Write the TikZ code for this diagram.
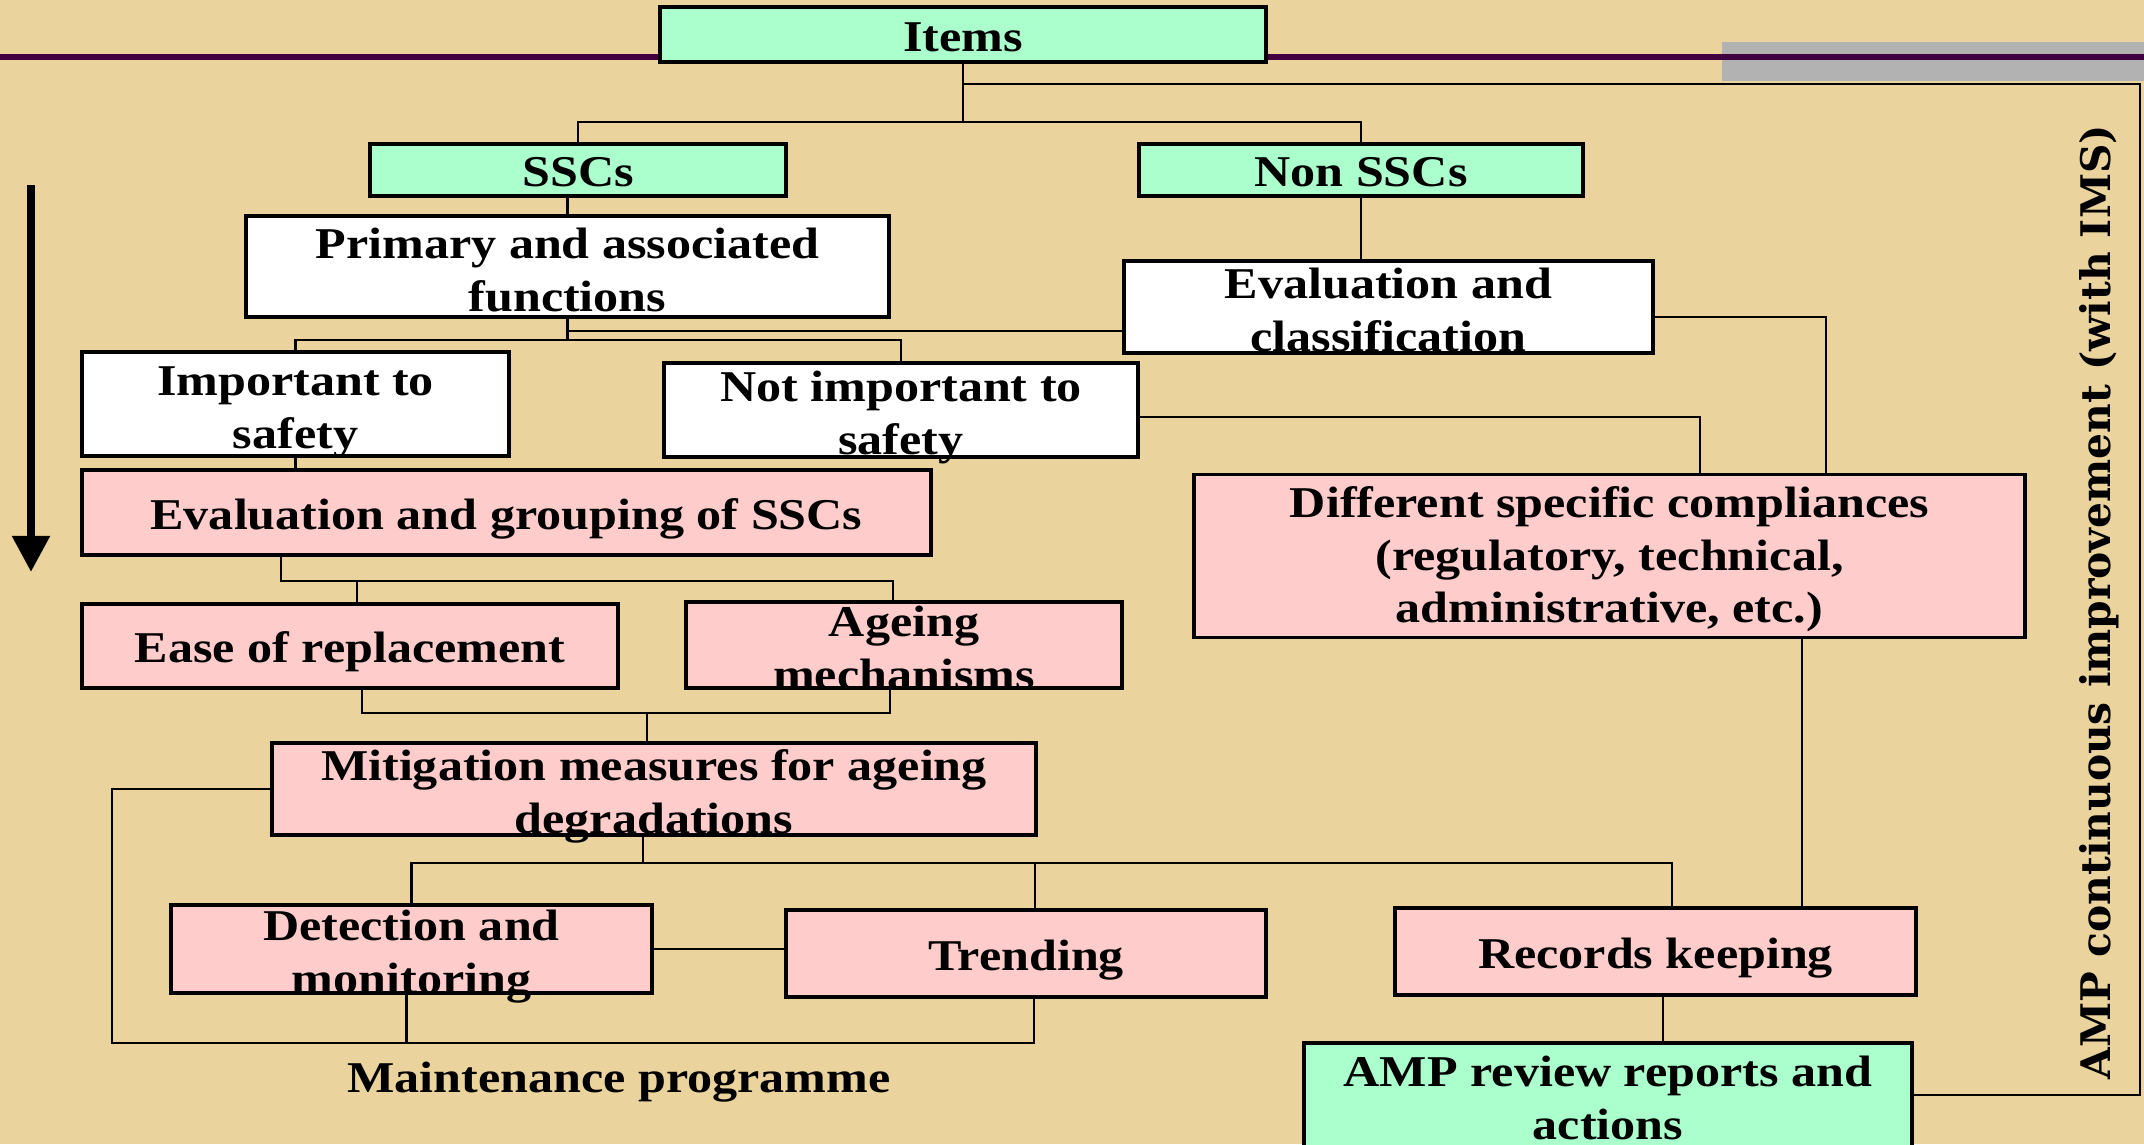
\documentclass[tikz,border=0pt]{standalone}
\usepackage{fontspec}
\setmainfont{Liberation Serif}
\newfontfamily\boxfont{Liberation Serif}[FakeStretch=1.14]
\newfontfamily\sidefont{DejaVu Serif}
\usetikzlibrary{arrows.meta}
\definecolor{paper}{RGB}{234,211,156}
\definecolor{mint}{RGB}{170,255,204}
\definecolor{rosy}{RGB}{255,204,204}
\definecolor{plum}{RGB}{64,0,64}
\definecolor{bar}{RGB}{178,178,178}

\begin{document}
\begin{tikzpicture}[x=0.01cm,y=-0.01cm,
  lift/.style={execute at begin node={\rule[-3pt]{0pt}{#1}}},
  box/.style={draw,line width=1pt,align=center,inner xsep=2pt,inner ysep=-8pt,font=\boxfont\bfseries\fontsize{12.5}{15}\selectfont,lift=15.4pt},
  two/.style={lift=31.4pt},
  wbox/.style={box,fill=white},gbox/.style={box,fill=mint},pbox/.style={box,fill=rosy},
  wire/.style={line width=0.6pt}]
\useasboundingbox (0,0) rectangle (2144,1144);
\fill[paper] (0,0) rectangle (2144,1144);
\fill[bar] (1722,42) rectangle (2144,81);\draw[plum,line width=1.6pt] (0,57)--(2144,57);
% boxes
\node[gbox,minimum width=6.06cm,minimum height=0.55cm] (items) at (963,34.5){Items};
\node[gbox,minimum width=4.16cm,minimum height=0.52cm] (sscs) at (578,170){SSCs};
\node[gbox,minimum width=4.44cm,minimum height=0.52cm] (nonsscs) at (1361,170){Non SSCs};
\node[wbox,two,minimum width=6.43cm,minimum height=1.01cm] (primary) at (567.5,266.5){Primary and associated\\functions};
\node[wbox,two,minimum width=5.29cm,minimum height=0.92cm] (evalclass) at (1388.5,307){Evaluation and\\classification};
\node[wbox,two,minimum width=4.27cm,minimum height=1.04cm] (important) at (295.5,404){Important to\\safety};
\node[wbox,two,minimum width=4.74cm,minimum height=0.94cm] (notimp) at (901,410){Not important to\\safety};
\node[pbox,minimum width=8.49cm,minimum height=0.85cm] (grouping) at (506.5,512.5){Evaluation and grouping of SSCs};
\node[pbox,minimum width=5.36cm,minimum height=0.84cm] (ease) at (350,646){Ease of replacement};
\node[pbox,two,minimum width=4.36cm,minimum height=0.86cm] (ageing) at (904,645){Ageing\\mechanisms};
\node[pbox,two,minimum width=7.64cm,minimum height=0.92cm] (mitig) at (654,789){Mitigation measures for ageing\\degradations};
\node[pbox,two,minimum width=4.81cm,minimum height=0.88cm] (detect) at (411.5,949){Detection and\\monitoring};
\node[pbox,minimum width=4.80cm,minimum height=0.87cm] (trend) at (1026,953.5){Trending};
\node[pbox,lift=44pt,minimum width=8.31cm,minimum height=1.63cm] (diff) at (1609.5,556){Different specific compliances\\(regulatory, technical,\\administrative, etc.)};
\node[pbox,minimum width=5.21cm,minimum height=0.87cm] (records) at (1655.5,951.5){Records keeping};
\node[gbox,two,minimum width=6.08cm,minimum height=1.04cm] (review) at (1608,1095){AMP review reports and\\actions};
% connectors
\draw[wire] (sscs.north)--++(0,-20) coordinate (b1)-|(nonsscs.north);\draw[wire] (items.south)--(items.south|-b1);
\coordinate (loop) at (2140,84);\draw[wire] (items.south|-loop)--(loop)|-(review.east);
\draw[wire] (primary.north)--(primary.north|-sscs.south);\draw[wire] (nonsscs.south)--(nonsscs.south|-evalclass.north);
\draw[wire] (important.north)--++(0,-10) coordinate (b2)-|(notimp.north);\draw[wire] (primary.south)--(primary.south|-b2);
\draw[wire] (primary.south)++(0,12) coordinate (pc)--(pc-|evalclass.west);
\draw[wire] ([yshift=-0.1cm]evalclass.east)-|([xshift=2.165cm]diff.north);
\draw[wire] ([yshift=-0.07cm]notimp.east)-|([xshift=0.905cm]diff.north);
\draw[wire] (important.south)--(important.south|-grouping.north);
\draw[wire] ([xshift=-2.255cm]grouping.south)--++(0,24) coordinate (b3)-|([xshift=-0.11cm]ageing.north);
\draw[wire] ([xshift=0.07cm]ease.north)--([xshift=0.07cm]ease.north|-b3);
\draw[wire] ([xshift=0.12cm]ease.south)--++(0,23) coordinate (b4)-|([xshift=-0.14cm]ageing.south);
\draw[wire] ([xshift=-0.07cm]mitig.north)--([xshift=-0.07cm]mitig.north|-b4);
\draw[wire] (detect.north)--++(0,-40) coordinate (b5)-|([xshift=0.165cm]records.north);
\draw[wire] ([xshift=-0.11cm]mitig.south)--([xshift=-0.11cm]mitig.south|-b5);\draw[wire] ([xshift=0.09cm]trend.north)--([xshift=0.09cm]trend.north|-b5);
\coordinate (mp) at (112,1043);\draw[wire] (mitig.west)-|(mp)-|([xshift=0.08cm]trend.south);
\draw[wire] ([xshift=-0.05cm]detect.south)--([xshift=-0.05cm]detect.south|-mp);\draw[wire] (detect.east)--(detect.east-|trend.west);
\draw[wire] ([xshift=1.925cm]diff.south)--([xshift=1.925cm]diff.south|-records.north);\draw[wire] ([xshift=0.075cm]records.south)--([xshift=0.075cm]records.south|-review.north);
% labels
\node[font=\boxfont\bfseries\fontsize{12.5}{14.4}\selectfont] (maint) at (619,1082){Maintenance programme};
\node[rotate=90,font=\sidefont\bfseries\fontsize{11.6}{14}\selectfont] (amp) at (2099,602){AMP continuous improvement (with IMS)};
\coordinate (top) at (31,185);\coordinate (tip) at (31,572);
\draw[line width=2.3pt,-{Triangle[length=0.36cm,width=0.36cm]}] (top)--(tip);
\end{tikzpicture}
\end{document}
